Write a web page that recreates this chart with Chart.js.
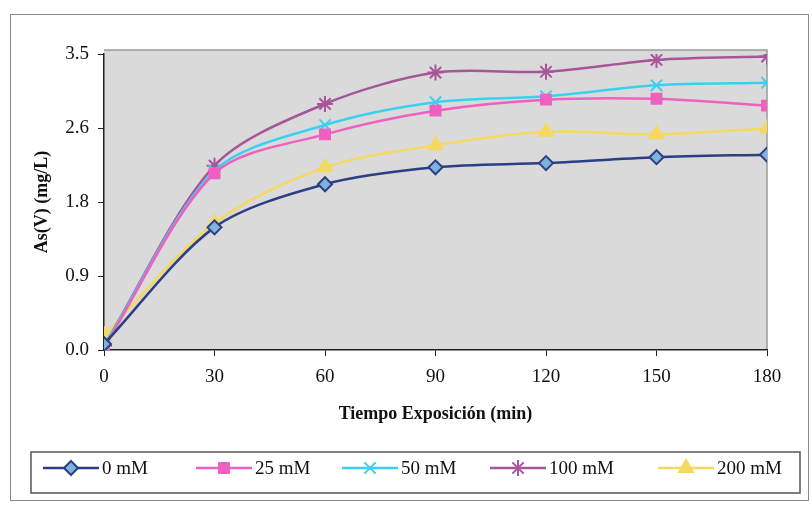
<!DOCTYPE html>
<html>
<head>
<meta charset="utf-8">
<script src="https://cdn.jsdelivr.net/npm/chart.js@4.4.1/dist/chart.umd.min.js"></script>
<style>
  html, body { margin: 0; padding: 0; background: #fff; }
  #wrap { width: 812px; height: 511px; position: relative; }
</style>
</head>
<body>
<div id="wrap"><canvas id="grafico" width="812" height="511"></canvas></div>
<script>
// datos
var tiempos = [0, 30, 60, 90, 120, 150, 180];
var serie0 = [0.07, 1.45, 1.96, 2.16, 2.21, 2.28, 2.31];
var serie25 = [0.03, 2.09, 2.55, 2.83, 2.96, 2.97, 2.89];
var serie50 = [0.05, 2.12, 2.66, 2.93, 3.00, 3.13, 3.16];
var serie100 = [0.05, 2.18, 2.91, 3.28, 3.29, 3.43, 3.47];
var serie200 = [0.17, 1.50, 2.16, 2.42, 2.58, 2.55, 2.62];
var etiquetas = ['0 mM', '25 mM', '50 mM', '100 mM', '200 mM'];
var ticksY = [0, 0.875, 1.75, 2.625, 3.5];
var ticksX = [0, 30, 60, 90, 120, 150, 180];

var fuente = "'Liberation Serif', 'DejaVu Serif', serif";

function puntos(vals) {
  return tiempos.map(function (t, i) { return { x: t, y: vals[i] } })
}

function serie(label, vals, color, fill, estilo, radio) {
  return {
    label: label,
    data: puntos(vals),
    borderColor: color,
    backgroundColor: fill,
    pointBorderColor: color,
    pointBackgroundColor: fill,
    pointStyle: estilo,
    pointRadius: radio,
    pointBorderWidth: 2,
    borderWidth: 2.5,
    tension: 0.3
  }
}

// fondo gris del area de trazado + marco exterior
var fondo = {
  id: 'fondo',
  beforeDraw: function (chart) {
    var c = chart.ctx, a = chart.chartArea;
    c.save();
    c.fillStyle = '#fff';
    c.fillRect(0, 0, chart.width, chart.height);
    c.fillStyle = '#dadada';
    c.fillRect(a.left, a.top - 4, a.right - a.left, a.bottom - a.top + 4);
    c.strokeStyle = '#9a9a9a';
    c.lineWidth = 1.5;
    c.beginPath();
    c.moveTo(a.left, a.top - 4);
    c.lineTo(a.right, a.top - 4);
    c.lineTo(a.right, a.bottom);
    c.stroke();
    c.strokeStyle = '#888';
    c.lineWidth = 1;
    c.strokeRect(10.5, 14.5, 798, 486);
    c.restore();
  }
};

// leyenda con linea y marcador, dentro de un recuadro
var leyenda = {
  id: 'leyenda',
  afterDraw: function (chart) {
    var c = chart.ctx;
    var xs = [43, 196, 342, 490, 658];
    var y = 468;
    c.save();
    c.strokeStyle = '#555';
    c.lineWidth = 1.5;
    c.strokeRect(31, 452, 769, 41);
    c.font = '19px ' + fuente;
    c.textBaseline = 'middle';
    chart.data.datasets.forEach(function (ds, i) {
      var x0 = xs[i];
      c.strokeStyle = ds.borderColor;
      c.lineWidth = 2.5;
      c.beginPath();
      c.moveTo(x0, y);
      c.lineTo(x0 + 56, y);
      c.stroke();
      c.fillStyle = ds.pointBackgroundColor;
      c.strokeStyle = ds.pointBorderColor;
      c.lineWidth = 2;
      Chart.helpers.drawPoint(c, { pointStyle: ds.pointStyle, radius: ds.pointRadius, borderWidth: 2 }, x0 + 28, y);
      c.fillStyle = '#111';
      c.fillText(ds.label, x0 + 59, y + 1);
    });
    c.restore();
  }
};

var ctx = document.getElementById('grafico').getContext('2d');

var chart = new Chart(ctx, {
  type: 'line',
  data: {
    datasets: [
      serie(etiquetas[0], serie0, '#2b3f86', '#7fb3dc', 'rectRot', 7),
      serie(etiquetas[1], serie25, '#f060c0', '#f060c0', 'rect', 7),
      serie(etiquetas[2], serie50, '#3cd0f0', '#3cd0f0', 'crossRot', 8),
      serie(etiquetas[3], serie100, '#a8559a', '#d070b8', 'star', 8),
      serie(etiquetas[4], serie200, '#f4d860', '#f4d860', 'triangle', 8)
    ]
  },
  options: {
    responsive: false,
    animation: false,
    layout: { padding: { left: 28, right: 45, top: 54, bottom: 82 } },
    plugins: {
      legend: { display: false },
      tooltip: { enabled: false }
    },
    scales: {
      x: {
        type: 'linear',
        min: 0,
        max: 180,
        afterBuildTicks: function (s) { s.ticks = ticksX.map(function (v) { return { value: v } }) },
        afterFit: function (s) { s.height = 79 },
        grid: { drawOnChartArea: false, drawTicks: true, tickLength: 6, color: '#222' },
        border: { color: '#222', width: 1.5 },
        ticks: { color: '#111', font: { family: fuente, size: 19 }, padding: 10 },
        title: { display: true, text: 'Tiempo Exposición (min)', color: '#111', font: { family: fuente, size: 18, weight: 'bold' }, padding: { top: 8 } }
      },
      y: {
        min: 0,
        max: 3.5,
        afterBuildTicks: function (s) { s.ticks = ticksY.map(function (v) { return { value: v } }) },
        afterFit: function (s) { s.width = 76 },
        grid: { drawOnChartArea: false, drawTicks: true, tickLength: 6, color: '#222' },
        border: { color: '#222', width: 1.5 },
        ticks: {
          color: '#111', font: { family: fuente, size: 19 }, padding: 9,
          callback: function (v) { return v.toFixed(1) }
        },
        title: { display: true, text: 'As(V) (mg/L)', color: '#111', font: { family: fuente, size: 18, weight: 'bold' }, padding: { bottom: 4 } }
      }
    }
  },
  plugins: [fondo, leyenda]
});
</script>
</body>
</html>
